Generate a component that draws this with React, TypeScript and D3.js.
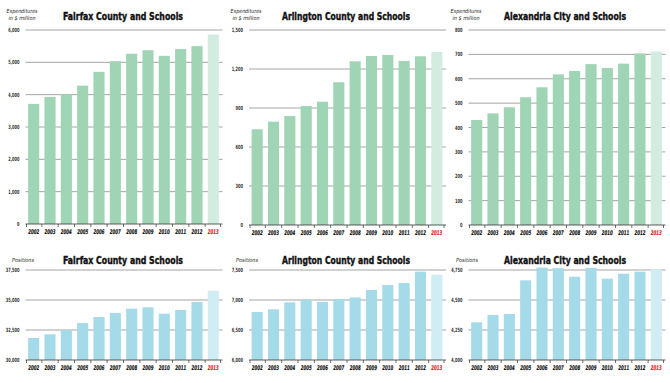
import React from 'react';
import * as d3 from 'd3';

const years = ['2002', '2003', '2004', '2005', '2006', '2007', '2008', '2009', '2010', '2011', '2012', '2013'];

const fairfaxExp = [3715, 3930, 4015, 4280, 4705, 5035, 5265, 5375, 5200, 5410, 5500, 5860];
const arlingtonExp = [736, 795, 838, 915, 948, 1098, 1259, 1300, 1308, 1262, 1298, 1331];
const alexandriaExp = [431, 458, 483, 524, 565, 618, 632, 660, 644, 662, 704, 712];

const fairfaxPos = [31833, 32140, 32500, 33080, 33580, 33920, 34280, 34390, 33860, 34170, 34830, 35780];
const arlingtonPos = [6800, 6845, 6961, 7006, 6967, 7017, 7044, 7167, 7250, 7283, 7472, 7422];
const alexandriaPos = [4314, 4375, 4383, 4664, 4770, 4765, 4694, 4767, 4678, 4719, 4736, 4756];

const fairfaxExpTicks = [0, 1000, 2000, 3000, 4000, 5000, 6000];
const arlingtonExpTicks = [0, 300, 600, 900, 1200, 1500];
const alexandriaExpTicks = [0, 100, 200, 300, 400, 500, 600, 700, 800];
const fairfaxPosTicks = [30000, 32500, 35000, 37500];
const arlingtonPosTicks = [6000, 6500, 7000, 7500];
const alexandriaPosTicks = [4000, 4250, 4500, 4750];

const titles = ['Fairfax County and Schools', 'Arlington County and Schools', 'Alexandria City and Schools'];

const GREEN = '#9fd4b5';
const GREEN_LIGHT = '#d3ece0';
const BLUE = '#a5dbe9';
const BLUE_LIGHT = '#d1edf4';

const NARROW = "'Liberation Sans Narrow', 'DejaVu Sans Condensed', 'Roboto', sans-serif";
const fmt = d3.format(',');

function labelLen(s: string) {
  let w = 0;
  for (const ch of s) w += ch === ',' ? 1.2 : 2.5;
  return w;
}

type PanelProps = {
  values: number[];
  ticks: number[];
  xRange: [number, number];
  yRange: [number, number];
  title: string;
  titleCenter: number;
  titleWidth: number;
  titleY: number;
  unitLines: string[];
  unitWidths: number[];
  unitX: number;
  unitY: number;
  color: string;
  lightColor: string;
};

function Panel(p: PanelProps) {
  const x = d3.scaleBand<string>().domain(years).range(p.xRange).paddingInner(0.32).paddingOuter(0.1);
  const y = d3.scaleLinear().domain([p.ticks[0], p.ticks[p.ticks.length - 1]]).range(p.yRange);
  const step = x.step();
  const gap = step * 0.32;
  const base = p.yRange[0];
  const gx0 = p.xRange[0] - 1;
  const gx1 = p.xRange[1] + 2;
  const bounds: number[] = [p.xRange[0]];
  years.forEach((yr, i) => {
    if (i > 0) bounds.push((x(yr) as number) - gap / 2);
  });
  bounds.push(p.xRange[1]);
  return (
    <g>
      {p.unitLines.map((l, i) => (
        <text key={l} x={p.unitX} y={p.unitY + i * 7} textAnchor="middle" fontFamily={NARROW}
          fontStyle="italic" fontSize={5.6} fill="#222" textLength={p.unitWidths[i]}
          lengthAdjust="spacingAndGlyphs">{l}</text>
      ))}
      <text x={p.titleCenter} y={p.titleY} textAnchor="middle" fontFamily={NARROW} fontWeight="bold"
        fontSize={11.2} fill="#111" stroke="#111" strokeWidth={0.4} textLength={p.titleWidth}
        lengthAdjust="spacingAndGlyphs">{p.title}</text>
      {p.ticks.map((t) => (
        <g key={t}>
          {t !== p.ticks[0] && (
            <line x1={gx0} x2={gx1} y1={y(t)} y2={y(t)} stroke="#9a9a9a" strokeWidth={0.9} />
          )}
          <text x={gx0 - 6} y={y(t) + 2} textAnchor="end" fontFamily={NARROW} fontSize={5.8}
            fontWeight="bold" fill="#333" textLength={labelLen(fmt(t))}
            lengthAdjust="spacingAndGlyphs">{fmt(t)}</text>
        </g>
      ))}
      {p.values.map((v, i) => (
        <rect key={years[i]} x={x(years[i])} width={x.bandwidth()} y={y(v)} height={base - y(v)}
          fill={i === years.length - 1 ? p.lightColor : p.color} />
      ))}
      <line x1={gx0} x2={gx1} y1={base} y2={base} stroke="#333" strokeWidth={0.8} />
      {bounds.map((b, i) => (
        <line key={i} x1={b} x2={b} y1={base} y2={base + 3} stroke="#333" strokeWidth={0.7} />
      ))}
      {years.map((yr, i) => (
        <text key={yr} x={(x(yr) as number) + x.bandwidth() / 2} y={base + 10} textAnchor="middle"
          fontFamily={NARROW} fontStyle="italic" fontWeight="bold" fontSize={6.5}
          fill={i === years.length - 1 ? '#e8202a' : '#111'} stroke={i === years.length - 1 ? '#e8202a' : '#111'}
          strokeWidth={0.15} textLength={11} lengthAdjust="spacingAndGlyphs">{yr}</text>
      ))}
    </g>
  );
}

export default function App() {
  const cols: { xRange: [number, number]; titleCenter: number; titleWidth: number; unitX: number }[] = [
    { xRange: [26.5, 220.5], titleCenter: 123, titleWidth: 120, unitX: 22 },
    { xRange: [250, 444], titleCenter: 346, titleWidth: 128, unitX: 246 },
    { xRange: [469.5, 663.5], titleCenter: 565, titleWidth: 122, unitX: 466 },
  ];
  const expData = [fairfaxExp, arlingtonExp, alexandriaExp];
  const expTicks = [fairfaxExpTicks, arlingtonExpTicks, alexandriaExpTicks];
  const posData = [fairfaxPos, arlingtonPos, alexandriaPos];
  const posTicks = [fairfaxPosTicks, arlingtonPosTicks, alexandriaPosTicks];
  const expYRanges: [number, number][] = [[224, 30], [225, 30], [225, 30]];
  return (
    <svg width={670} height={383} style={{ position: 'absolute', left: 0, top: 0, background: '#fff' }}>
      {cols.map((c, i) => (
        <Panel key={'e' + i} values={expData[i]} ticks={expTicks[i]} xRange={c.xRange} yRange={expYRanges[i]}
          title={titles[i]} titleCenter={c.titleCenter} titleWidth={c.titleWidth} titleY={20}
          unitLines={['Expenditures', 'in $ million']} unitWidths={[31, 27]} unitX={c.unitX} unitY={13}
          color={GREEN} lightColor={GREEN_LIGHT} />
      ))}
      {cols.map((c, i) => (
        <Panel key={'p' + i} values={posData[i]} ticks={posTicks[i]} xRange={c.xRange} yRange={[360, 270]}
          title={titles[i]} titleCenter={c.titleCenter} titleWidth={c.titleWidth} titleY={264}
          unitLines={['Positions']} unitWidths={[22]} unitX={c.unitX + 1} unitY={262}
          color={BLUE} lightColor={BLUE_LIGHT} />
      ))}
    </svg>
  );
}
